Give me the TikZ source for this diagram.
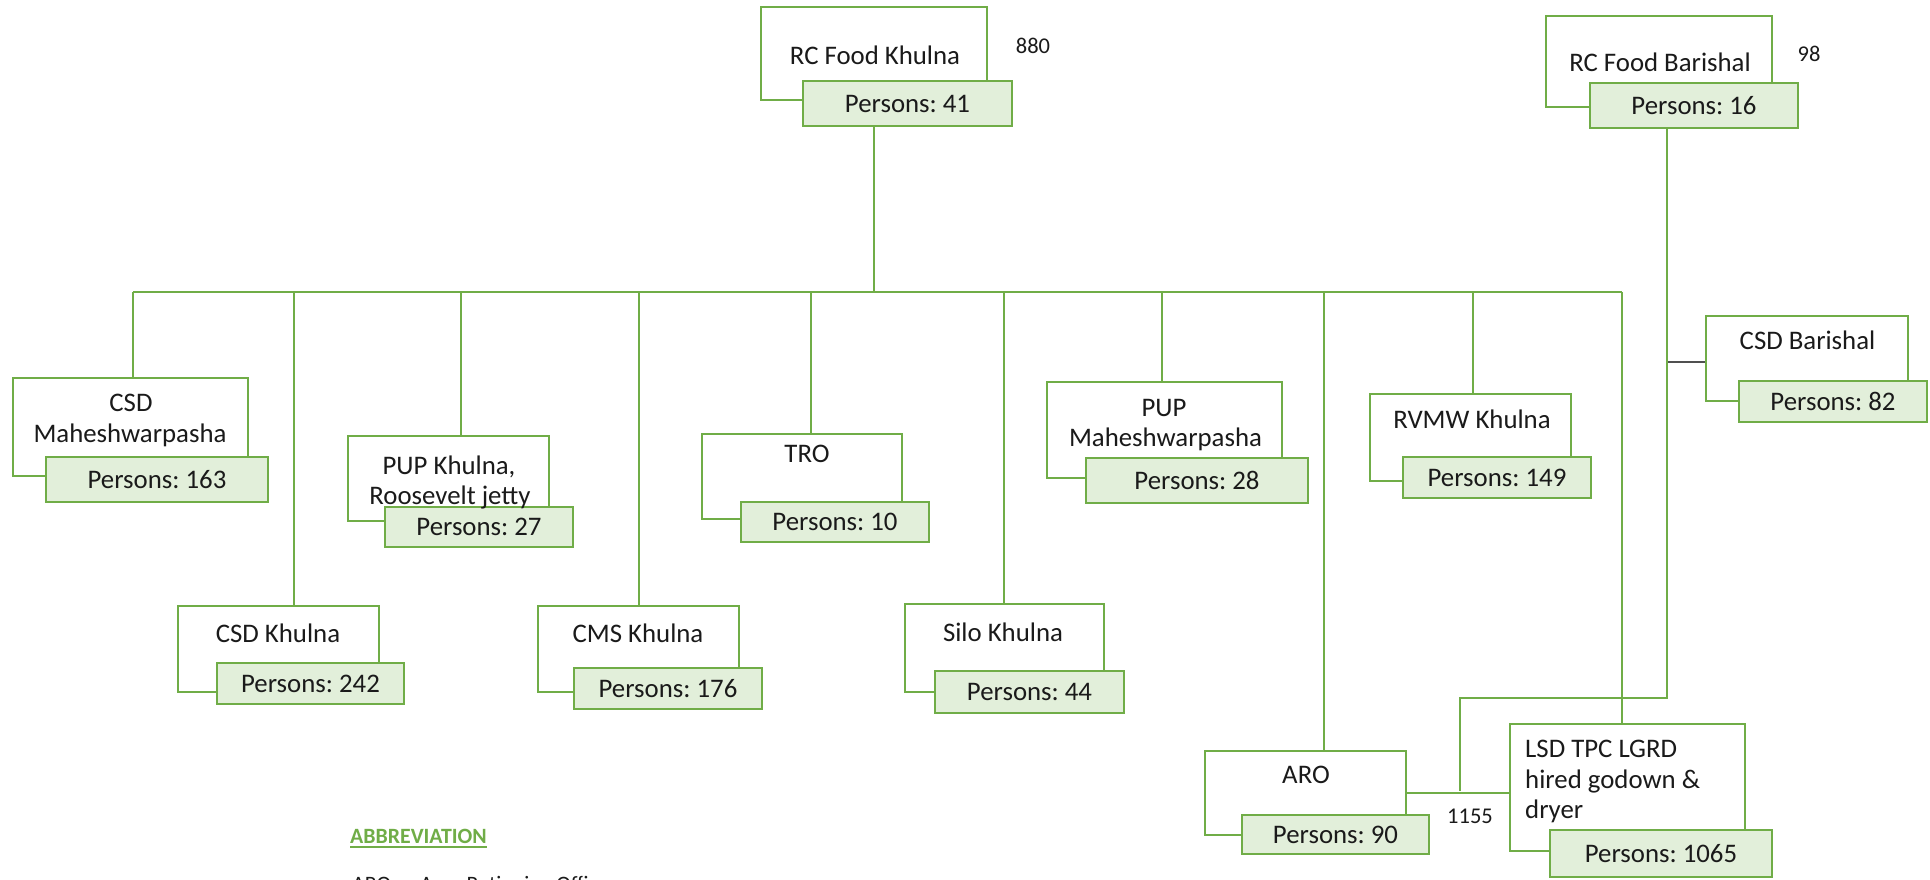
\documentclass[tikz,border=0pt]{standalone}
\usepackage{fontspec}
\setmainfont{Carlito}
\frenchspacing
\definecolor{lg}{HTML}{70AD47}
\definecolor{lf}{HTML}{E2EFDA}
\definecolor{tx}{HTML}{1A1A1A}
\definecolor{gc}{HTML}{505050}
\tikzset{
 wbox/.style={draw=lg, line width=2pt, fill=white, inner sep=0pt, rectangle},
 gbox/.style={draw=lg, line width=2pt, fill=lf, inner sep=0pt, rectangle, font=\fontsize{26.8}{32}\selectfont, text=tx},
 lbl/.style={inner sep=0pt, anchor=base, font=\fontsize{26.8}{32}\selectfont, text=tx},
 lbll/.style={lbl, anchor=base west},
 num/.style={inner sep=0pt, anchor=base, font=\fontsize{22.5}{27}\selectfont, text=tx},
 conn/.style={draw=lg, line width=2pt},
}
\begin{document}
\begin{tikzpicture}[x=1pt,y=-1pt]
\useasboundingbox (0,0) rectangle (1930,880);
\clip (0,0) rectangle (1930,880);
\fill[white] (0,0) rectangle (1930,880);

% RC Food Khulna
\node[wbox, minimum width=226pt, minimum height=93pt] (rck) at (874,53.5) {};
\node[gbox, minimum width=209pt, minimum height=45pt] (rckg) at (907.5,103.5) {Persons: 41};
\node[lbl] (rckt) at (875,65) {RC Food Khulna};
\node[num] (n880) at (1033,54) {880};

% RC Food Barishal
\node[wbox, minimum width=226pt, minimum height=91pt] (rcb) at (1659,61.5) {};
\node[gbox, minimum width=208pt, minimum height=45pt] (rcbg) at (1694,105.5) {Persons: 16};
\node[lbl] (rcbt) at (1660,72) {RC Food Barishal};
\node[num] (n98) at (1809,62) {98};

% CSD Maheshwarpasha
\node[wbox, minimum width=235pt, minimum height=98pt] (csdm) at (130.5,427) {};
\node[gbox, minimum width=222pt, minimum height=45pt] (csdmg) at (157,479.5) {Persons: 163};
\node[lbl] (csdmt1) at (131,411) {CSD};
\node[lbl] (csdmt2) at (130,442) {Maheshwarpasha};

% CSD Khulna
\node[wbox, minimum width=201pt, minimum height=86pt] (csdk) at (278.5,649) {};
\node[gbox, minimum width=187pt, minimum height=41pt] (csdkg) at (310.5,683.5) {Persons: 242};
\node[lbl] (csdkt) at (278,642) {CSD Khulna};

% PUP Khulna
\node[wbox, minimum width=201pt, minimum height=85pt] (pupk) at (448.5,478.5) {};
\node[gbox, minimum width=188pt, minimum height=40pt] (pupkg) at (479,527) {Persons: 27};
\node[lbl] (pupkt1) at (449,474) {PUP Khulna,};
\node[lbl] (pupkt2) at (450,504) {Roosevelt jetty};

% CMS Khulna
\node[wbox, minimum width=201pt, minimum height=86pt] (cms) at (638.5,649) {};
\node[gbox, minimum width=188pt, minimum height=41pt] (cmsg) at (668,688.5) {Persons: 176};
\node[lbl] (cmst) at (638,642) {CMS Khulna};

% TRO
\node[wbox, minimum width=200pt, minimum height=85pt] (tro) at (802,476.5) {};
\node[gbox, minimum width=188pt, minimum height=40pt] (trog) at (835,522) {Persons: 10};
\node[lbl] (trot) at (807,462) {TRO};

% Silo Khulna
\node[wbox, minimum width=199pt, minimum height=88pt] (silo) at (1004.5,648) {};
\node[gbox, minimum width=189pt, minimum height=42pt] (silog) at (1029.5,692) {Persons: 44};
\node[lbl] (silot) at (1003,641) {Silo Khulna};

% PUP Maheshwarpasha
\node[wbox, minimum width=235pt, minimum height=96pt] (pupm) at (1164.5,430) {};
\node[gbox, minimum width=222pt, minimum height=45pt] (pupmg) at (1197,480.5) {Persons: 28};
\node[lbl] (pupmt1) at (1164,416) {PUP};
\node[lbl] (pupmt2) at (1165.5,446) {Maheshwarpasha};

% RVMW Khulna
\node[wbox, minimum width=201pt, minimum height=87pt] (rvmw) at (1470.5,437.5) {};
\node[gbox, minimum width=188pt, minimum height=41pt] (rvmwg) at (1497,477.5) {Persons: 149};
\node[lbl] (rvmwt) at (1472,428) {RVMW Khulna};

% CSD Barishal
\node[wbox, minimum width=202pt, minimum height=85pt] (csdb) at (1807,358.5) {};
\node[gbox, minimum width=188pt, minimum height=41pt] (csdbg) at (1833,401.5) {Persons: 82};
\node[lbl] (csdbt) at (1807.5,349) {CSD Barishal};

% ARO
\node[wbox, minimum width=201pt, minimum height=84pt] (aro) at (1305.5,793) {};
\node[gbox, minimum width=187pt, minimum height=39pt] (arog) at (1335.5,834.5) {Persons: 90};
\node[lbl] (arot) at (1306,783) {ARO};

% LSD TPC LGRD
\node[wbox, minimum width=235pt, minimum height=127pt] (lsd) at (1627.5,787.5) {};
\node[gbox, minimum width=222pt, minimum height=47pt] (lsdg) at (1661,853.5) {Persons: 1065};
\node[lbll] (lsdt1) at (1525,757) {LSD TPC LGRD};
\node[lbll] (lsdt2) at (1525,788) {hired godown \&};
\node[lbll] (lsdt3) at (1525,818) {dryer};

\node[num] (n1155) at (1470,823) {1155};

% connectors
\coordinate (bl) at (133,292);
\coordinate (br) at (1622,292);
\coordinate (tk) at (874,292);
\draw[conn] (tk |- rckg.south) -- (tk);
\draw[conn] (bl) -- (br);
\draw[conn] (bl) -- (bl |- csdm.north);
\coordinate (t2) at (294,292);
\draw[conn] (t2) -- (t2 |- csdk.north);
\coordinate (t3) at (461,292);
\draw[conn] (t3) -- (t3 |- pupk.north);
\coordinate (t4) at (639,292);
\draw[conn] (t4) -- (t4 |- cms.north);
\coordinate (t5) at (811,292);
\draw[conn] (t5) -- (t5 |- tro.north);
\coordinate (t6) at (1004,292);
\draw[conn] (t6) -- (t6 |- silo.north);
\coordinate (t7) at (1162,292);
\draw[conn] (t7) -- (t7 |- pupm.north);
\coordinate (t8) at (1324,292);
\draw[conn] (t8) -- (t8 |- aro.north);
\coordinate (t9) at (1473,292);
\draw[conn] (t9) -- (t9 |- rvmw.north);
\draw[conn] (br) -- (br |- lsd.north);

\coordinate (b1) at (1667,698);
\coordinate (b2) at (1460,698);
\coordinate (b3) at (1460,791);
\draw[conn] (b1 |- rcbg.south) -- (b1) -- (b2) -- (b3);
\draw[conn] (aro.east) -- (aro.east -| lsd.west);
\coordinate (gb) at (1668,362);
\draw[draw=gc, line width=2pt] (gb) -- (gb -| csdb.west);

% abbreviation
\node[inner sep=0pt, anchor=base west, font=\fontsize{21.8}{26}\selectfont\bfseries, text=lg] (abbr) at (350,843) {ABBREVIATION};
\draw[lg, line width=2pt] ([yshift=-4pt]abbr.base west) -- ([yshift=-4pt]abbr.base east);
\node[inner sep=0pt, anchor=base west, font=\fontsize{22}{26}\selectfont, text=tx] (abbr1) at (352,891) {ARO\hspace{18pt}: Area Rationing Officer};
\end{tikzpicture}
\end{document}
